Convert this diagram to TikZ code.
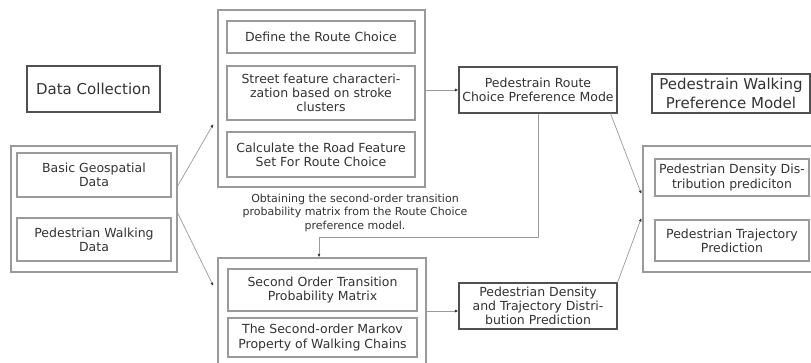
\documentclass[tikz,border=0pt]{standalone}
\usepackage{fontspec}
\setmainfont{DejaVu Sans}
\usetikzlibrary{arrows.meta}
\definecolor{txt}{HTML}{333333}
\definecolor{lightbd}{HTML}{9A9A9A}
\definecolor{darkbd}{HTML}{505050}
\definecolor{conn}{HTML}{9A9A9A}
\tikzset{
  box/.style={draw=lightbd, line width=1.1pt, inner sep=0pt, align=center, text=txt,
    font=\fontsize{12.5}{14.2}\selectfont},
  outerbox/.style={draw=lightbd, line width=1.3pt, inner sep=0pt},
  titlebox/.style={draw=darkbd, line width=1.1pt, inner sep=0pt, align=center, text=txt,
    font=\fontsize{15}{18.3}\selectfont},
  midbox/.style={draw=darkbd, line width=1.1pt, inner sep=0pt, align=center, text=txt,
    font=\fontsize{12.5}{14.2}\selectfont},
  arr/.style={draw=conn, line width=0.7pt, -{Latex[length=3.5pt,width=3pt,color=black!80]}},
  note/.style={align=center, text=txt, font=\fontsize{11}{13.5}\selectfont},
  sz/.style n args={2}{minimum width=#1pt, minimum height=#2pt}
}
\begin{document}
\begin{tikzpicture}[x=1pt,y=-1pt]
\useasboundingbox[fill=white] (0,0) rectangle (811,362);

% left column
\node[titlebox, sz={133}{46}] (dc) at (93.5,89) {Data Collection};
\node[outerbox, sz={166}{126}] (leftouter) at (94,209) {};
\node[box, sz={154}{44}] (geo) at (94,175) {Basic Geospatial\\Data};
\node[box, sz={154}{43}] (walk) at (94,239.5) {Pedestrian Walking\\Data};

% top middle
\node[outerbox, sz={207}{177}] (topouter) at (321.5,98.5) {};
\node[box, sz={188}{32}] (define) at (321,37) {Define the Route Choice};
\node[box, sz={188}{54}] (street) at (321,93) {Street feature characteri-\\zation based on stroke\\clusters};
\node[box, sz={188}{45}] (calc) at (321,154.5) {Calculate the Road Feature\\Set For Route Choice};

% bottom middle
\node[outerbox, sz={208}{112}] (botouter) at (322,314) {};
\node[box, sz={189}{42}] (sotm) at (322.5,290) {Second Order Transition\\Probability Matrix};
\node[box, sz={189}{39}] (markov) at (322.5,337.5) {The Second-order Markov\\Property of Walking Chains};

% note
\node[note] (obt) at (355,212.5) {Obtaining the second-order transition\\probability matrix from the Route Choice\\preference model.};

% middle-right boxes
\node[midbox, sz={158}{46}] (route) at (538,90) {Pedestrain Route\\Choice Preference Mode};
\node[midbox, sz={158}{46}] (dtp) at (538,306) {Pedestrian Density\\and Trajectory Distri-\\bution Prediction};

% right column
\node[titlebox, sz={158}{39}] (wpm) at (731,93.5) {Pedestrain Walking\\Preference Model};
\node[outerbox, sz={172}{126}] (rightouter) at (729,209) {};
\node[box, sz={154}{37}] (dens) at (732,177.5) {Pedestrian Density Dis-\\tribution prediciton};
\node[box, sz={154}{41}] (traj) at (732,240.5) {Pedestrian Trajectory\\Prediction};

% connectors
\draw[arr] ([yshift=23pt]leftouter.east) -- ([xshift=-4pt,yshift=-25.5pt]topouter.west);
\draw[arr] ([yshift=-4pt]leftouter.east) -- ([xshift=-4pt,yshift=28pt]botouter.west);
\draw[arr] (topouter.east |- route.west) -- (route.west);
\draw[arr] (route.south) -- ++(0,124) -| ([xshift=-3pt]botouter.north);
\draw[arr] ([xshift=-7pt]route.south east) -- ([xshift=-1pt,yshift=15pt]rightouter.west);
\draw[arr] ([yshift=-5pt]botouter.east |- dtp.west) -- ([yshift=-5pt]dtp.west);
\draw[arr] (dtp.north east) -- ([xshift=-1pt,yshift=-9pt]rightouter.west);
\end{tikzpicture}
\end{document}
